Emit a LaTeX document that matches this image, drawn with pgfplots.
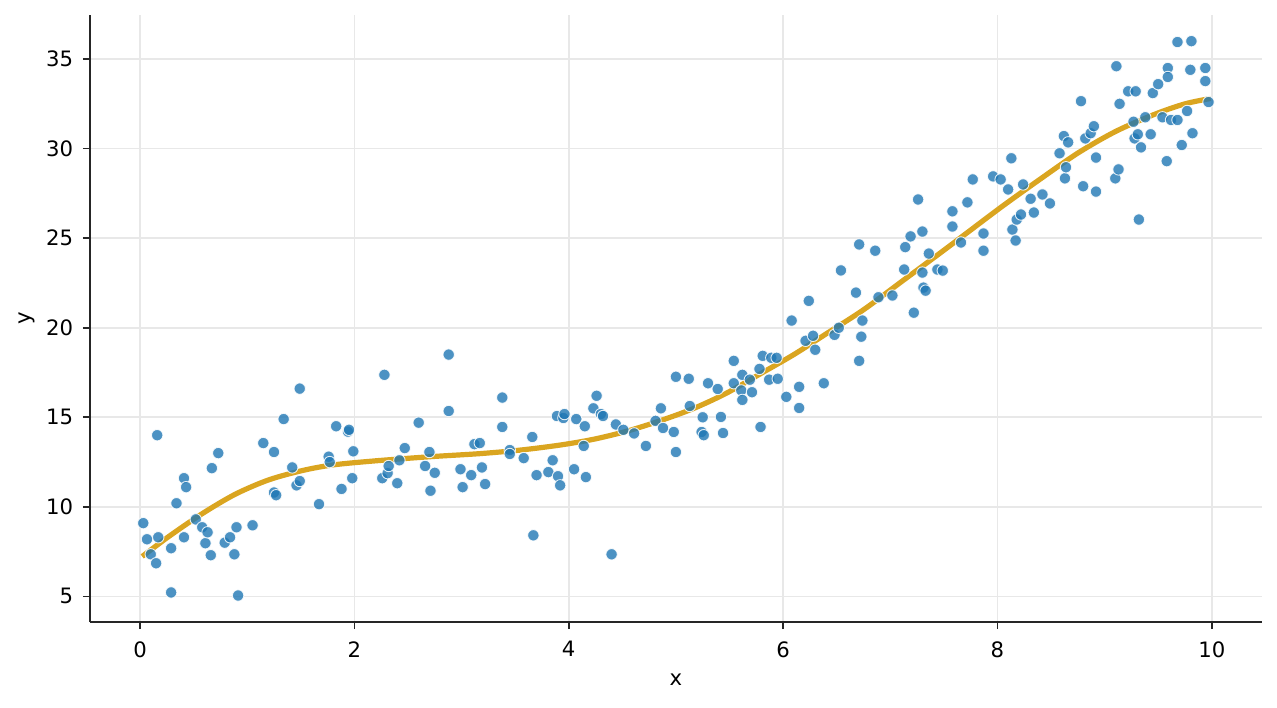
\documentclass[border=0pt]{standalone}
\usepackage{fontspec}
\setmainfont{DejaVu Sans}
\usepackage{pgfplots}
\usepackage{pgfplotstable}
\pgfplotsset{compat=1.18}
\definecolor{tabblue}{RGB}{31,119,180}
\definecolor{golden}{RGB}{218,165,32}
\definecolor{gridc}{RGB}{232,232,232}
\definecolor{spine}{RGB}{38,38,38}
\pgfplotstableread{
x y
0.03 9.09
0.065 8.19
0.10 7.35
0.15 6.85
0.16 14.0
0.17 8.3
0.29 5.22
0.29 7.69
0.34 10.2
0.41 11.6
0.43 11.1
0.41 8.3
0.52 9.3
0.58 8.86
0.61 7.97
0.63 8.58
0.66 7.3
0.67 12.16
0.73 13.0
0.79 8.0
0.84 8.3
0.88 7.35
0.90 8.86
0.915 5.05
1.05 8.97
1.15 13.56
1.25 13.06
1.25 10.8
1.27 10.65
1.34 14.9
1.42 12.2
1.46 11.2
1.49 11.44
1.49 16.6
1.67 10.15
1.76 12.8
1.77 12.5
1.83 14.5
1.88 11.0
1.94 14.2
1.95 14.3
1.99 13.1
1.98 11.6
2.26 11.6
2.28 17.37
2.31 11.88
2.32 12.28
2.40 11.32
2.42 12.6
2.47 13.28
2.60 14.7
2.66 12.28
2.70 13.06
2.71 10.9
2.75 11.9
2.88 18.5
2.88 15.35
2.99 12.1
3.01 11.1
3.09 11.77
3.12 13.5
3.17 13.56
3.19 12.2
3.22 11.27
3.38 16.1
3.38 14.46
3.45 13.17
3.45 12.95
3.58 12.72
3.66 13.9
3.67 8.41
3.70 11.77
3.81 11.94
3.85 12.6
3.89 15.07
3.90 11.71
3.92 11.2
3.95 14.96
3.96 15.18
4.05 12.1
4.07 14.9
4.14 13.4
4.15 14.5
4.16 11.66
4.23 15.5
4.26 16.2
4.30 15.18
4.32 15.07
4.40 7.35
4.44 14.6
4.51 14.3
4.61 14.1
4.72 13.4
4.81 14.8
4.86 15.5
4.88 14.4
4.98 14.18
5.00 13.06
5.00 17.26
5.12 17.15
5.13 15.63
5.24 14.18
5.25 15.0
5.26 14.0
5.30 16.9
5.39 16.58
5.42 15.02
5.44 14.12
5.54 18.15
5.54 16.9
5.61 16.5
5.62 17.37
5.62 15.97
5.69 17.1
5.71 16.4
5.78 17.7
5.79 14.46
5.81 18.43
5.87 17.1
5.89 18.32
5.94 18.32
5.95 17.15
6.03 16.14
6.08 20.4
6.15 15.52
6.15 16.7
6.21 19.27
6.24 21.5
6.28 19.55
6.30 18.77
6.38 16.9
6.48 19.6
6.52 20.0
6.54 23.2
6.68 21.96
6.71 24.65
6.71 18.15
6.73 19.5
6.74 20.4
6.86 24.3
6.89 21.7
7.02 21.8
7.13 23.25
7.14 24.5
7.19 25.1
7.22 20.84
7.26 27.16
7.30 23.08
7.30 25.37
7.31 22.24
7.33 22.07
7.36 24.14
7.44 23.25
7.49 23.19
7.58 26.5
7.58 25.65
7.66 24.76
7.72 27.0
7.77 28.28
7.87 24.3
7.87 25.26
7.96 28.45
8.03 28.28
8.10 27.72
8.13 29.46
8.14 25.48
8.17 24.87
8.18 26.04
8.22 26.32
8.24 28.0
8.31 27.2
8.34 26.43
8.42 27.44
8.49 26.94
8.58 29.74
8.62 30.7
8.63 28.34
8.64 28.96
8.66 30.35
8.78 32.65
8.80 27.9
8.82 30.57
8.87 30.86
8.90 31.25
8.92 29.5
8.92 27.6
9.10 28.34
9.11 34.6
9.13 28.84
9.14 32.5
9.22 33.2
9.27 31.5
9.28 30.57
9.29 33.2
9.31 30.8
9.32 26.04
9.34 30.07
9.38 31.75
9.43 30.8
9.45 33.1
9.50 33.6
9.54 31.75
9.58 29.3
9.59 34.5
9.59 34.0
9.62 31.6
9.68 35.95
9.68 31.6
9.72 30.2
9.77 32.1
9.80 34.4
9.81 36.0
9.82 30.86
9.94 34.5
9.94 33.77
9.97 32.6
}\points
\pgfplotstableread{
x y
0.02 7.23
0.265 8.33
0.575 9.60
0.887 10.70
1.198 11.50
1.51 12.02
1.80 12.34
2.2 12.57
2.71 12.8
3.17 12.97
3.55 13.17
3.92 13.45
4.23 13.77
4.54 14.22
4.85 14.80
5.16 15.48
5.47 16.34
5.78 17.40
6.10 18.50
6.40 19.65
6.75 21.0
7.1 22.55
7.45 24.1
7.75 25.45
8.05 26.8
8.40 28.3
8.75 29.75
9.10 30.95
9.46 31.9
9.75 32.5
9.99 32.8
}\fit
\begin{document}
\fontsize{10.6}{12.7}\selectfont
\begin{tikzpicture}
\begin{axis}[
  scale only axis, width=586pt, height=303.5pt,
  xmin=-0.467, xmax=10.469, ymin=3.57, ymax=37.46,
  axis x line*=bottom, axis y line*=left,
  tick align=outside,
  xtick={0,2,...,10}, ytick={5,10,...,35},
  grid=major, major grid style={draw=gridc, line width=0.8pt},
  axis line style={draw=spine, line width=0.85pt},
  major tick length=3.5pt,
  every tick/.style={draw=spine, line width=0.85pt},
  /pgf/number format/assume math mode=true,
  ticklabel style={font=\fontsize{10.6}{12.7}\selectfont, text=black},
  xticklabel style={anchor=north, inner sep=0pt, yshift=-6pt},
  yticklabel style={anchor=east, inner sep=0pt, xshift=-4.8pt},
  xlabel={x}, ylabel={y},
  label style={font=\fontsize{10.6}{12.7}\selectfont},
  xlabel style={at={(axis description cs:0.5,-0.0956)}, anchor=center},
  ylabel style={at={(axis description cs:-0.0538,0.5)}, anchor=center},
]
\addplot[only marks, mark=*, mark size=2.85pt,
  mark options={fill=tabblue, fill opacity=0.8, draw=white, draw opacity=0.85, line width=0.45pt}]
  table[x=x, y=y] {\points};
\addplot[golden, line width=2.6pt, smooth, tension=0.5, line cap=butt] table[x=x, y=y] {\fit};
\end{axis}
\pgfresetboundingbox
\path[use as bounding box] ([shift={(-45pt,-42.5pt)}]current axis.south west) rectangle ([shift={(7.5pt,7.5pt)}]current axis.north east);
\end{tikzpicture}
\end{document}
